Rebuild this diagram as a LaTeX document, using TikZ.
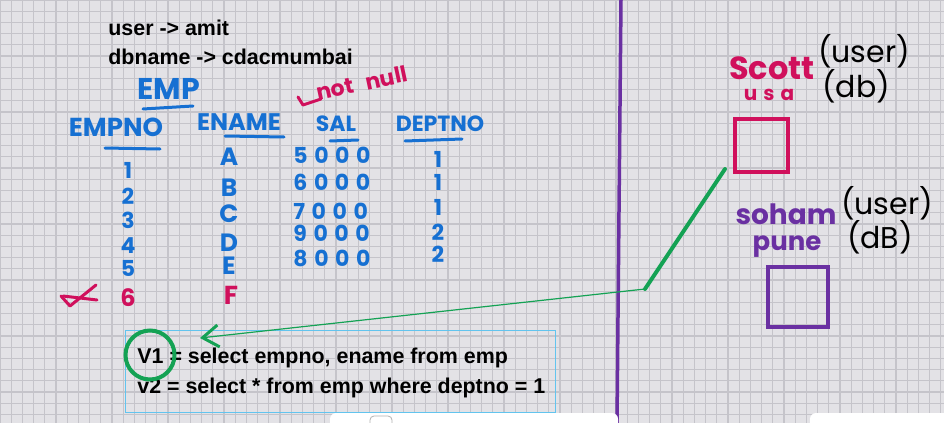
\documentclass[tikz,border=0pt]{standalone}
\usepackage{fontspec}
\setmainfont{Liberation Sans}
\newfontfamily\hand{Poppins}
\newfontfamily\handwide[LetterSpace=30]{Poppins}
\usepackage{xcolor}
\usetikzlibrary{arrows.meta,positioning,calc}

\definecolor{boardbg}{HTML}{E3E2E6}
\definecolor{boardgrid}{HTML}{C5C4CA}
\definecolor{penblue}{HTML}{1670D2}
\definecolor{penpink}{HTML}{D0105C}
\definecolor{penpurple}{HTML}{6A30A2}
\definecolor{pengreen}{HTML}{14A254}
\definecolor{boxblue}{HTML}{62C4EE}

\tikzset{
	typed/.style={font=\bfseries\fontsize{10.7}{13}\selectfont, anchor=base west, inner sep=0pt},
	hw/.style={font=\hand\bfseries\fontsize{#1}{#1}\selectfont, inner sep=0pt},
	hwide/.style={font=\handwide\bfseries\fontsize{#1}{#1}\selectfont, inner sep=0pt},
	hthin/.style={font=\hand\fontsize{#1}{#1}\selectfont, inner sep=0pt},
	ink/.style={line width=1.5pt, line cap=round, line join=round},
	dbsquare/.style={draw, line width=2pt, inner sep=0pt}
}

\begin{document}
\begin{tikzpicture}[x=0.5pt,y=-0.5pt]
	\useasboundingbox (0,0) rectangle (944,423);
	\clip (0,0) rectangle (944,423);
	
	% board
	\fill[boardbg] (0,0) rectangle (944,423);
	\draw[boardgrid, line width=0.6pt] (0,423) grid[step=5.6pt] (944,0);
	
	% divider
	\draw[penpurple, line width=1.75pt] (621,0) -- (617,423);
	
	% login
	\node[typed] (user) at (108,35) {user -> amit};
	\node[typed] (dbname) at (108,64) {dbname -> cdacmumbai};
	
	% table emp
	\node[hw=15, penblue] (emp) at (169,89) {EMP};
	\draw[ink, penblue] (143,109) -- (193,106);
	
	\node[hw=13, penblue] (empno) at (116,127) {EMPNO};
	\node[hw=12, penblue] (ename) at (239,122) {ENAME};
	\node[hw=11, penblue] (sal) at (336,124) {SAL};
	\node[hw=11, penblue] (deptno) at (440,124) {DEPTNO};
	\draw[ink, penblue] (105,148) -- (160,149);
	\draw[ink, penblue] (225,136) -- (284,137);
	\draw[ink, penblue] (330,141) -- (358,140);
	\draw[ink, penblue] (405,141) -- (462,139);
	
	\node[hw=11, penpink, rotate=12] (notnull) at (362,83) {not\hspace{6pt}null};
	\draw[ink, penpink] (298,97) -- (303,105) -- (321,99);
	
	\foreach \ry/\rv in {170/1, 196/2, 220/3, 246/4, 268/5}
		\node[hw=11, penblue] at (128,\ry) {\rv};
	\node[hw=12, penpink] (six) at (128,298) {6};
	
	\foreach \ry/\rv in {157/A, 188/B, 214/C, 243/D, 266/E}
		\node[hw=12.5, penblue] at (229,\ry) {\rv};
	\node[hw=13, penpink] (fname) at (231,295) {F};
	
	\foreach \ry/\rv in {155/5000, 182/6000, 211/7000, 233/9000, 258/8000}
		\node[hwide=11, penblue, anchor=west] at (293,\ry) {\rv};
	
	\foreach \ry/\rv in {159/1, 182/1, 207/1, 232/2, 254/2}
		\node[hw=11, penblue] at (438,\ry) {\rv};
	
	% deleted row
	\draw[ink, penpink] (61,296) -- (70,306) -- (96,285);
	\draw[ink, penpink] (63,296) -- (97,300);
	
	% views
	\node[draw=boxblue, line width=0.5pt, minimum width=215pt, minimum height=41pt, inner sep=0pt] (viewbox) at (340,371) {};
	\node[typed] (vone) at (137,363) {V1 = select empno, ename from emp};
	\node[typed] (vtwo) at (137,393) {v2 = select * from emp where deptno = 1};
	\node[circle, draw=pengreen, line width=2pt, minimum size=24.5pt, inner sep=0pt] (vring) at (150,355) {};
	
	% databases
	\node[hw=16, penpink] (scott) at (772,68) {Scott};
	\node[hwide=10, penpink] (usa) at (769,95) {usa};
	\node[hthin=15, black] (scottuser) at (864,51) {(user)};
	\node[hthin=15, black] (scottdb) at (856,86) {(db)};
	\node[dbsquare, penpink, minimum size=26.5pt] (scottsq) at (761.5,145.5) {};
	
	\node[hw=14, penpurple] (soham) at (786,214) {soham};
	\node[hw=13, penpurple] (pune) at (787,247) {pune};
	\node[hthin=15, black] (sohamuser) at (887,203) {(user)};
	\node[hthin=15, black] (sohamdb) at (880,237) {(dB)};
	\node[dbsquare, penpurple, minimum size=30pt] (sohamsq) at (798,296.5) {};
	
	% link scott -> V1
	\coordinate (linkend) at ($(scottsq.south west)+(-8,-5)$);
	\coordinate (bend) at (645,289);
	\coordinate (vtip) at (200,338);
	\draw[pengreen, line width=2pt, line cap=round] (linkend) -- (bend);
	\draw[pengreen, line width=0.6pt, -{Straight Barb[length=8pt, width=11pt, line width=1.5pt]}] (bend) -- (vtip);
	
	% toolbars
	\fill[white, rounded corners=3pt] (330,413) rectangle (618,440);
	\draw[gray!60, rounded corners=2pt] (370,416) rectangle (392,430);
	\fill[white, rounded corners=3pt] (810,413) rectangle (960,440);
	
\end{tikzpicture}
\end{document}
